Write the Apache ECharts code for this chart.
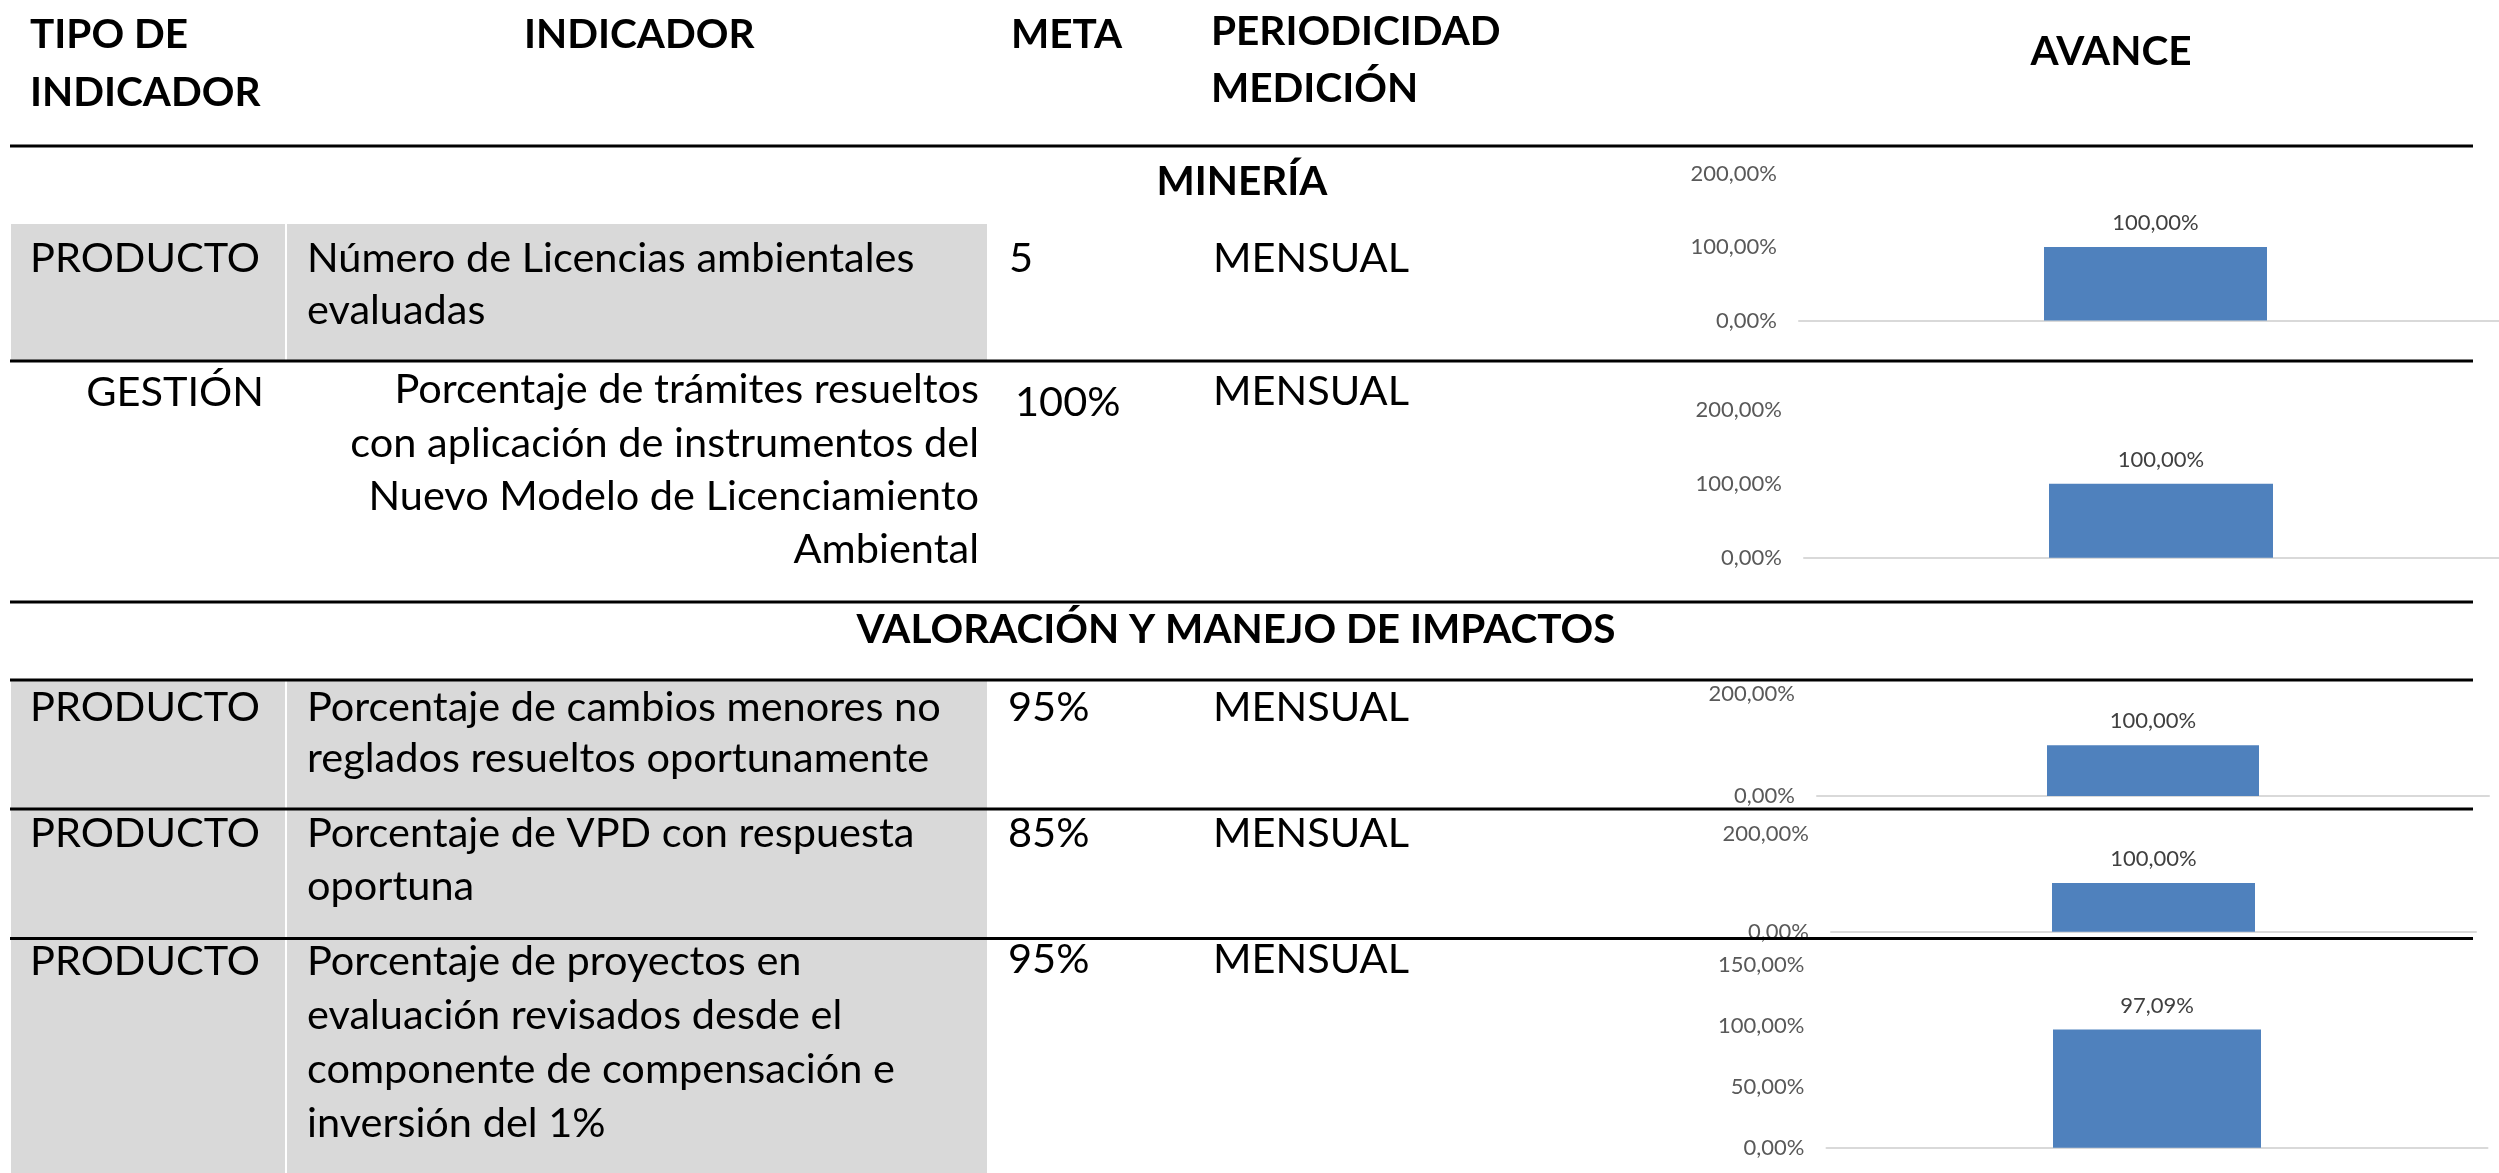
<!DOCTYPE html>
<html><head><meta charset="utf-8">
<script src="https://cdn.jsdelivr.net/npm/echarts@6/dist/echarts.min.js"></script>
<style>html,body{margin:0;padding:0;background:#fff}#c{width:2499px;height:1173px}</style>
</head><body><div id="c"></div>
<script>
// ---------------- data ----------------
const headers = ['TIPO DE\nINDICADOR', 'INDICADOR', 'META', 'PERIODICIDAD\nMEDICIÓN', 'AVANCE'];
const sections = ['MINERÍA', 'VALORACIÓN Y MANEJO DE IMPACTOS'];
const tipos = ['PRODUCTO', 'GESTIÓN', 'PRODUCTO', 'PRODUCTO', 'PRODUCTO'];
const indicadores = [
  'Número de Licencias ambientales\nevaluadas',
  'Porcentaje de trámites resueltos\ncon aplicación de instrumentos del\nNuevo Modelo de Licenciamiento\nAmbiental',
  'Porcentaje de cambios menores no\nreglados resueltos oportunamente',
  'Porcentaje de VPD con respuesta\noportuna',
  'Porcentaje de proyectos en\nevaluación revisados desde el\ncomponente de compensación e\ninversión del 1%'
];
const metas = ['5', '100%', '95%', '85%', '95%'];
const periodicidad = ['MENSUAL', 'MENSUAL', 'MENSUAL', 'MENSUAL', 'MENSUAL'];
const categoria = ['Avance'];
const avance = [100, 100, 100, 100, 97.09];
const axisMax = [200, 200, 200, 200, 150];
const axisStep = [100, 100, 200, 200, 50];

// ---------------- layout ----------------
const FONT = 'Lato, "Open Sans", sans-serif';
const BODY = 41.5, HEAD = 40.5, K = 0.32, SMALL = 22;
const hLines = [146, 361, 602, 680, 809, 938.5];
const grayBands = [[224, 360], [680, 809], [809, 938.5], [938.5, 1173]];
const rowLayout = [
  {tipoX: 30, tipoAlign: 'left', tipoB: 271.7, indX: 307, indAlign: 'left', indB: 271.7, lh: 52.5, metaX: 1009, metaB: 271.7, perB: 271.7},
  {tipoX: 264, tipoAlign: 'right', tipoB: 406, indX: 979, indAlign: 'right', indB: 403.3, lh: 53.3, metaX: 1015, metaB: 416, perB: 405},
  {tipoX: 30, tipoAlign: 'left', tipoB: 720.7, indX: 307, indAlign: 'left', indB: 720.7, lh: 51.5, metaX: 1008, metaB: 720.7, perB: 720.7},
  {tipoX: 30, tipoAlign: 'left', tipoB: 847, indX: 307, indAlign: 'left', indB: 847, lh: 53, metaX: 1008, metaB: 846.7, perB: 847},
  {tipoX: 30, tipoAlign: 'left', tipoB: 975, indX: 307, indAlign: 'left', indB: 975, lh: 54, metaX: 1008, metaB: 973.3, perB: 973.3}
];
const perX = 1213;
const grids = [
  {left: 1799, top: 173.5, width: 713, height: 147},
  {left: 1804, top: 410, width: 714, height: 147.7},
  {left: 1817, top: 694.3, width: 672, height: 101.7},
  {left: 1831, top: 834.3, width: 645, height: 97.4},
  {left: 1826.5, top: 965, width: 661, height: 182.7}
];
const barWidths = [223, 224, 212, 203, 208];

function txt(x, baseline, text, size, weight, align, lh) {
  lh = lh || size * 1.2;
  return {
    type: 'text', silent: true, z: 10,
    x: x, y: baseline - lh / 2 - K * size,
    style: {
      text: text, fill: '#000',
      font: weight + ' ' + size + 'px ' + FONT,
      textAlign: align, textVerticalAlign: 'top', lineHeight: lh
    }
  };
}

const pct = v => Number(v).toFixed(2).replace('.', ',') + '%';

const elements = [];
grayBands.forEach(b => {
  elements.push({type: 'rect', silent: true, z: 1, shape: {x: 11, y: b[0], width: 976, height: b[1] - b[0]}, style: {fill: '#d9d9d9'}});
  elements.push({type: 'rect', silent: true, z: 2, shape: {x: 285, y: b[0], width: 2, height: b[1] - b[0]}, style: {fill: '#ffffff'}});
});
hLines.forEach(y => {
  elements.push({type: 'line', silent: true, z: 5, shape: {x1: 10, y1: y, x2: 2473, y2: y}, style: {stroke: '#000', lineWidth: 3}});
});
// headers
elements.push(txt(30, 48.3, headers[0], HEAD, 'bold', 'left', 58));
elements.push(txt(524, 48.3, headers[1], HEAD, 'bold', 'left'));
elements.push(txt(1011, 48.3, headers[2], HEAD, 'bold', 'left'));
elements.push(txt(1211, 45, headers[3], HEAD, 'bold', 'left', 57));
elements.push(txt(2111, 65, headers[4], HEAD, 'bold', 'center'));
// sections
elements.push(txt(1242, 195, sections[0], HEAD, 'bold', 'center'));
elements.push(txt(1236, 643, sections[1], HEAD, 'bold', 'center'));
// rows
rowLayout.forEach((r, i) => {
  elements.push(txt(r.tipoX, r.tipoB, tipos[i], BODY, 'normal', r.tipoAlign, r.lh));
  elements.push(txt(r.indX, r.indB, indicadores[i], BODY, 'normal', r.indAlign, r.lh));
  elements.push(txt(r.metaX, r.metaB, metas[i], BODY, 'normal', 'left', r.lh));
  elements.push(txt(perX, r.perB, periodicidad[i], BODY, 'normal', 'left', r.lh));
});

const option = {
  animation: false,
  backgroundColor: '#fff',
  grid: grids.map(g => Object.assign({containLabel: false, outerBoundsMode: 'none'}, g)),
  xAxis: grids.map((g, i) => ({
    type: 'category', gridIndex: i, data: categoria,
    axisLine: {show: true, lineStyle: {color: '#d9d9d9', width: 2}},
    axisTick: {show: false}, axisLabel: {show: false}, splitLine: {show: false}
  })),
  yAxis: grids.map((g, i) => ({
    type: 'value', gridIndex: i, min: 0, max: axisMax[i], interval: axisStep[i],
    axisLine: {show: false}, axisTick: {show: false}, splitLine: {show: false},
    axisLabel: {formatter: pct, color: '#595959', fontSize: SMALL, fontFamily: FONT, margin: 22}
  })),
  series: avance.map((v, i) => ({
    type: 'bar', xAxisIndex: i, yAxisIndex: i, data: [v], barWidth: barWidths[i],
    itemStyle: {color: '#4f81bd'},
    label: {show: true, position: 'top', distance: 13, formatter: p => pct(p.value), color: '#404040', fontSize: SMALL, fontFamily: FONT}
  })),
  graphic: {elements: elements}
};
const chart = echarts.init(document.getElementById('c'), null, {renderer: 'canvas'});
chart.setOption(option);
</script>
</body></html>
